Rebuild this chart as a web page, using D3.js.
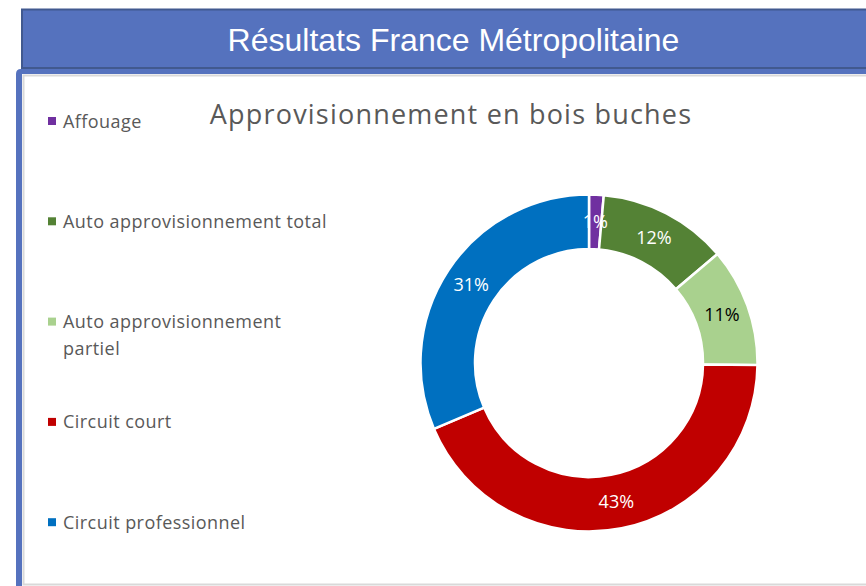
<!DOCTYPE html>
<html>
<head>
<meta charset="utf-8">
<script src="https://cdn.jsdelivr.net/npm/d3@7"></script>
<style>
  html, body { margin: 0; padding: 0; background: #ffffff; }
  svg { display: block; }
</style>
</head>
<body>
<div id="visualization"></div>
<script>
// Data
const categories = ["Affouage", "Auto approvisionnement total", "Auto approvisionnement partiel", "Circuit court", "Circuit professionnel"];
const legendLines = [["Affouage"], ["Auto approvisionnement total"], ["Auto approvisionnement", "partiel"], ["Circuit court"], ["Circuit professionnel"]];
const values = [1.4, 12.4, 11.4, 43.4, 31.4];
const percentLabels = ["1%", "12%", "11%", "43%", "31%"];
const colors = ["#7030a0", "#548235", "#a9d18e", "#c00000", "#0070c0"];
const labelColors = ["#ffffff", "#ffffff", "#000000", "#ffffff", "#ffffff"];

function createDonutChart() {
    const width = 866, height = 586;

    d3.select("#visualization svg").remove();

    const svg = d3.select("#visualization")
        .append("svg")
        .attr("width", width)
        .attr("height", height);

    // Banner
    svg.append("rect")
        .attr("x", 22).attr("y", 9.5)
        .attr("width", 860).attr("height", 58.5)
        .attr("fill", "#5572be")
        .attr("stroke", "#41598f")
        .attr("stroke-width", 2);

    svg.append("text")
        .attr("x", 453.5)
        .attr("y", 51)
        .attr("text-anchor", "middle")
        .style("font-family", "'Liberation Sans', Arial, sans-serif")
        .style("font-size", "32px")
        .attr("fill", "#ffffff")
        .text("Résultats France Métropolitaine");

    // Chart frame
    svg.append("path")
        .attr("d", "M16,586 L16,74 Q16,69 21,69 L870,69 L870,74 L22,74 L22,586 Z")
        .attr("fill", "#5572be");
    svg.append("rect")
        .attr("x", 23.5).attr("y", 75.5)
        .attr("width", 860).attr("height", 509)
        .attr("fill", "#ffffff")
        .attr("stroke", "#d9d9d9")
        .attr("stroke-width", 2);

    // Chart title
    svg.append("text")
        .attr("x", 451)
        .attr("y", 124)
        .attr("text-anchor", "middle")
        .style("font-family", "'Open Sans', sans-serif")
        .style("font-size", "27px")
        .style("letter-spacing", "1.2px")
        .attr("fill", "#595959")
        .text("Approvisionnement en bois buches");

    // Legend
    const legend = svg.append("g")
        .selectAll("g")
        .data(categories)
        .enter()
        .append("g")
        .attr("transform", (d, i) => `translate(48,${121 + i * 100.3})`);

    legend.append("rect")
        .attr("x", 0).attr("y", -4)
        .attr("width", 8).attr("height", 8)
        .attr("fill", (d, i) => colors[i]);

    legend.append("text")
        .attr("x", 15)
        .attr("y", 6.5)
        .style("font-family", "'Open Sans', sans-serif")
        .style("font-size", "18px")
        .style("letter-spacing", "0.45px")
        .attr("fill", "#595959")
        .selectAll("tspan")
        .data((d, i) => legendLines[i])
        .enter()
        .append("tspan")
        .attr("x", 15)
        .attr("dy", (d, j) => j === 0 ? 0 : 27)
        .text(d => d);

    // Donut
    const cx = 589, cy = 363;
    const outerR = 168.5, innerR = 114;

    const pie = d3.pie().sort(null).value(d => d);
    const arc = d3.arc().innerRadius(innerR).outerRadius(outerR);
    const labelArc = d3.arc().innerRadius((innerR + outerR) / 2).outerRadius((innerR + outerR) / 2);

    const donut = svg.append("g")
        .attr("transform", `translate(${cx},${cy})`);

    const arcs = pie(values);

    donut.selectAll("path")
        .data(arcs)
        .enter()
        .append("path")
        .attr("d", arc)
        .attr("fill", (d, i) => colors[i])
        .attr("stroke", "#ffffff")
        .attr("stroke-width", 2.5);

    donut.selectAll("text")
        .data(arcs)
        .enter()
        .append("text")
        .attr("transform", d => `translate(${labelArc.centroid(d)})`)
        .attr("text-anchor", "middle")
        .attr("dy", "0.35em")
        .style("font-family", "'Open Sans', sans-serif")
        .style("font-size", "18px")
        .attr("fill", (d, i) => labelColors[i])
        .text((d, i) => percentLabels[i]);
}

createDonutChart();
</script>
</body>
</html>
